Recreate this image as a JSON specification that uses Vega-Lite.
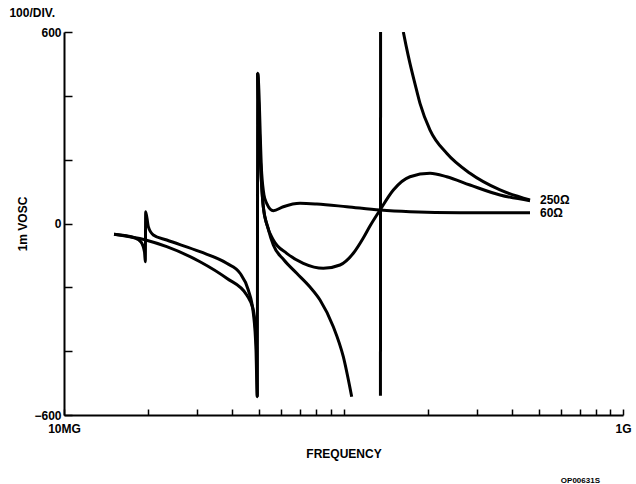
{
  "$schema": "https://vega.github.io/schema/vega-lite/v6.json",
  "width": 559,
  "height": 383,
  "autosize": "none",
  "padding": {"left": 64, "top": 32, "right": 13, "bottom": 69},
  "background": "white",
  "config": {"view": {"stroke": null}, "font": "Liberation Sans"},
  "title": {"text": "OP00631S", "orient": "bottom", "anchor": "end", "fontSize": 8, "fontWeight": "bold", "dx": -31, "offset": 18, "color": "black"},
  "datasets": {
    "curves": [
      {"s": "60", "seg": "1a", "f": 15.10, "v": -33.8},
      {"s": "60", "seg": "1a", "f": 17.95, "v": -45.5},
      {"s": "60", "seg": "1a", "f": 18.86, "v": -58},
      {"s": "60", "seg": "1a", "f": 19.41, "v": -89},
      {"s": "60", "seg": "1a", "f": 19.54, "v": -119.7},
      {"s": "60", "seg": "1a", "f": 19.60, "v": 37},
      {"s": "60", "seg": "1a", "f": 20.03, "v": -10},
      {"s": "60", "seg": "1a", "f": 20.87, "v": -36},
      {"s": "60", "seg": "1a", "f": 23.31, "v": -51.7},
      {"s": "60", "seg": "1a", "f": 30.66, "v": -88.3},
      {"s": "60", "seg": "1a", "f": 38.21, "v": -124.7},
      {"s": "60", "seg": "1a", "f": 42.64, "v": -156},
      {"s": "60", "seg": "1a", "f": 45.64, "v": -208.3},
      {"s": "60", "seg": "1a", "f": 47.57, "v": -280.4},
      {"s": "60", "seg": "1a", "f": 48.63, "v": -396.3},
      {"s": "60", "seg": "1a", "f": 49.16, "v": -542.6},
      {"s": "60", "seg": "1a", "f": 49.32, "v": 470.6},
      {"s": "60", "seg": "1a", "f": 50.97, "v": 157.3},
      {"s": "60", "seg": "1a", "f": 51.94, "v": 89.3},
      {"s": "60", "seg": "1a", "f": 53.11, "v": 63.3},
      {"s": "60", "seg": "1a", "f": 56.09, "v": 40.1},
      {"s": "60", "seg": "1a", "f": 60.90, "v": 52.6},
      {"s": "60", "seg": "1a", "f": 69.89, "v": 63.3},
      {"s": "60", "seg": "1a", "f": 80.21, "v": 61.1},
      {"s": "60", "seg": "1a", "f": 102.7, "v": 52.6},
      {"s": "60", "seg": "1a", "f": 135.1, "v": 42.3},
      {"s": "60", "seg": "1a", "f": 172.9, "v": 37.0},
      {"s": "60", "seg": "1a", "f": 261.2, "v": 33.8},
      {"s": "60", "seg": "1a", "f": 464.8, "v": 33.8},
      {"s": "250", "seg": "2a", "f": 15.10, "v": -33.8},
      {"s": "250", "seg": "2a", "f": 19.60, "v": -51.7},
      {"s": "250", "seg": "2a", "f": 23.31, "v": -72.7},
      {"s": "250", "seg": "2a", "f": 30.66, "v": -119.7},
      {"s": "250", "seg": "2a", "f": 38.21, "v": -171.7},
      {"s": "250", "seg": "2a", "f": 45.05, "v": -224},
      {"s": "250", "seg": "2a", "f": 47.57, "v": -271},
      {"s": "250", "seg": "2a", "f": 48.91, "v": -396.3},
      {"s": "250", "seg": "2a", "f": 49.16, "v": -542.6},
      {"s": "250", "seg": "2b", "f": 49.32, "v": 470.6},
      {"s": "250", "seg": "2b", "f": 50.27, "v": 230.3},
      {"s": "250", "seg": "2b", "f": 51.65, "v": 52.6},
      {"s": "250", "seg": "2b", "f": 53.24, "v": -4.7},
      {"s": "250", "seg": "2b", "f": 56.09, "v": -51.7},
      {"s": "250", "seg": "2b", "f": 62.64, "v": -93.4},
      {"s": "250", "seg": "2b", "f": 71.81, "v": -124.7},
      {"s": "250", "seg": "2b", "f": 84.69, "v": -140.4},
      {"s": "250", "seg": "2b", "f": 97.16, "v": -130},
      {"s": "250", "seg": "2b", "f": 108.4, "v": -93.4},
      {"s": "250", "seg": "2b", "f": 117.7, "v": -45.4},
      {"s": "250", "seg": "2b", "f": 124.4, "v": -7.8},
      {"s": "250", "seg": "2b", "f": 135.1, "v": 42.3},
      {"s": "250", "seg": "2b", "f": 150.8, "v": 105},
      {"s": "250", "seg": "2b", "f": 172.9, "v": 146.6},
      {"s": "250", "seg": "2b", "f": 204.0, "v": 157.3},
      {"s": "250", "seg": "2b", "f": 234.0, "v": 146.6},
      {"s": "250", "seg": "2b", "f": 283.5, "v": 120.6},
      {"s": "250", "seg": "2b", "f": 363.1, "v": 89.3},
      {"s": "250", "seg": "2b", "f": 464.8, "v": 71.4},
      {"s": "x", "seg": "3a", "f": 49.32, "v": 470.6},
      {"s": "x", "seg": "3a", "f": 50.27, "v": 230.3},
      {"s": "x", "seg": "3a", "f": 51.65, "v": 51.7},
      {"s": "x", "seg": "3a", "f": 53.70, "v": -14.1},
      {"s": "x", "seg": "3a", "f": 56.09, "v": -67.4},
      {"s": "x", "seg": "3a", "f": 61.24, "v": -114.3},
      {"s": "x", "seg": "3a", "f": 68.03, "v": -156},
      {"s": "x", "seg": "3a", "f": 75.88, "v": -199},
      {"s": "x", "seg": "3a", "f": 82.42, "v": -239.7},
      {"s": "x", "seg": "3a", "f": 91.95, "v": -323.3},
      {"s": "x", "seg": "3a", "f": 99.84, "v": -417.3},
      {"s": "x", "seg": "3a", "f": 106.98, "v": -542.6},
      {"s": "x", "seg": "3b", "f": 135.6, "v": -540},
      {"s": "x", "seg": "3b", "f": 135.7, "v": 600},
      {"s": "x", "seg": "3c", "f": 163.7, "v": 600},
      {"s": "x", "seg": "3c", "f": 167.3, "v": 559},
      {"s": "x", "seg": "3c", "f": 172.9, "v": 501.9},
      {"s": "x", "seg": "3c", "f": 180.3, "v": 437},
      {"s": "x", "seg": "3c", "f": 187.8, "v": 376.6},
      {"s": "x", "seg": "3c", "f": 204.0, "v": 292.9},
      {"s": "x", "seg": "3c", "f": 234.0, "v": 219.9},
      {"s": "x", "seg": "3c", "f": 283.5, "v": 157.3},
      {"s": "x", "seg": "3c", "f": 363.1, "v": 105},
      {"s": "x", "seg": "3c", "f": 464.8, "v": 73.6}
    ],
    "labels": [
      {"t": "250Ω", "f": 464.8, "v": 73},
      {"t": "60Ω", "f": 464.8, "v": 33}
    ],
    "corner": [
      {"t": "100/DIV.", "f": 10, "v": 600}
    ]
  },
  "layer": [
    {
      "mark": {"type": "rule", "color": "#222", "strokeWidth": 1},
      "encoding": {"y": {"datum": 0, "type": "quantitative"}}
    },
    {
      "data": {"name": "curves"},
      "mark": {"type": "line", "color": "black", "strokeWidth": 3, "interpolate": "monotone", "clip": true},
      "encoding": {
        "x": {
          "field": "f", "type": "quantitative",
          "scale": {"type": "log", "domain": [10, 1000], "nice": false},
          "axis": {
            "title": "FREQUENCY",
            "values": [10, 20, 30, 40, 50, 60, 70, 80, 90, 100, 200, 300, 400, 500, 600, 700, 800, 900, 1000],
            "labelExpr": "datum.value == 10 ? '10MG' : (datum.value == 1000 ? '1G' : '')",
            "tickSize": -6, "tickWidth": 1.5, "tickColor": "black",
            "domainColor": "black", "domainWidth": 2,
            "labelFont": "Liberation Sans", "labelFontWeight": "bold", "labelFontSize": 12, "labelColor": "black",
            "labelPadding": 14, "labelFlush": false, "labelOverlap": false, "labelBound": false,
            "titleFont": "Liberation Sans", "titleFontWeight": "bold", "titleFontSize": 12, "titleColor": "black",
            "titlePadding": 14, "grid": false
          }
        },
        "y": {
          "field": "v", "type": "quantitative",
          "scale": {"domain": [-600, 600], "nice": false, "zero": false},
          "axis": {
            "title": "1m VOSC",
            "values": [-600, -500, -400, -300, -200, -100, 0, 100, 200, 300, 400, 500, 600],
            "labelExpr": "(datum.value == 600 || datum.value == -600 || datum.value == 0) ? datum.label : ''",
            "tickSize": -8, "tickWidth": 1.5, "tickColor": "black",
            "domainColor": "black", "domainWidth": 2,
            "labelFont": "Liberation Sans", "labelFontWeight": "bold", "labelFontSize": 12, "labelColor": "black",
            "labelPadding": 11, "labelOverlap": false, "labelBound": false, "labelFlush": false,
            "titleFont": "Liberation Sans", "titleFontWeight": "bold", "titleFontSize": 12, "titleColor": "black",
            "titlePadding": 4, "grid": false
          }
        },
        "detail": {"field": "seg"}
      }
    },
    {
      "data": {"name": "labels"},
      "mark": {"type": "text", "align": "left", "baseline": "middle", "dx": 10, "font": "Liberation Sans", "fontWeight": "bold", "fontSize": 12, "color": "black"},
      "encoding": {
        "x": {"field": "f", "type": "quantitative"},
        "y": {"field": "v", "type": "quantitative"},
        "text": {"field": "t"}
      }
    },
    {
      "data": {"name": "corner"},
      "mark": {"type": "text", "align": "right", "baseline": "middle", "dx": -9, "dy": -19, "font": "Liberation Sans", "fontWeight": "bold", "fontSize": 12, "color": "black", "clip": false},
      "encoding": {
        "x": {"field": "f", "type": "quantitative"},
        "y": {"field": "v", "type": "quantitative"},
        "text": {"field": "t"}
      }
    }
  ]
}
